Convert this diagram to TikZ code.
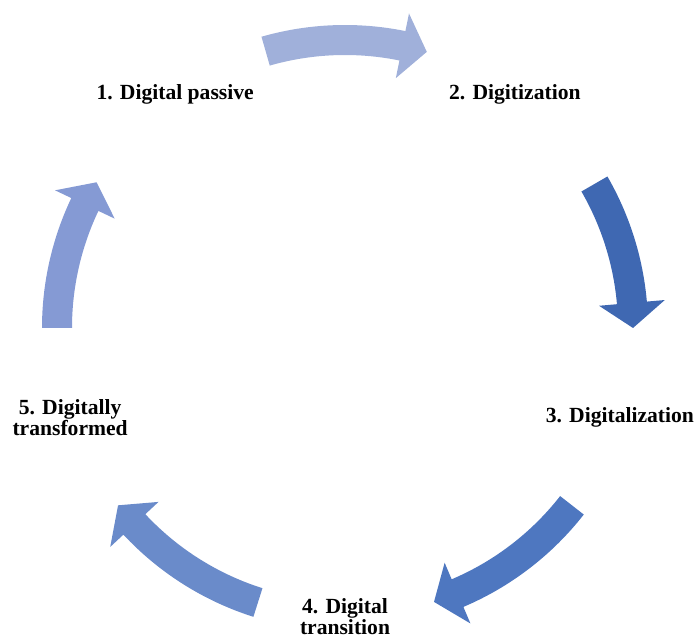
\documentclass[tikz,border=0pt]{standalone}
\usepackage{fontspec}
\setmainfont{Liberation Serif}
\usepackage{tikz}
\usetikzlibrary{calc}
\usepackage{xcolor}
\definecolor{cyc-one}{RGB}{160,176,218}
\definecolor{cyc-two}{RGB}{63,104,178}
\definecolor{cyc-three}{RGB}{78,119,192}
\definecolor{cyc-four}{RGB}{106,139,202}
\definecolor{cyc-five}{RGB}{133,154,212}

% curved block arrow round (mid): colour, tail angle, head base angle, tip angle
\newcommand{\cyclearrow}[4]{%
	\fill[#1] ($(mid)+(#2:303)$) arc[start angle=#2, end angle=#3, radius=303]
	-- ($(mid)+(#3:321)$) -- ($(mid)+(#4:288)$) -- ($(mid)+(#3:255)$)
	-- ($(mid)+(#3:273)$) arc[start angle=#3, end angle=#2, radius=273] -- cycle;}

\begin{document}
\begin{tikzpicture}[x=0.5pt, y=0.5pt,
		stage/.style={font=\bfseries\fontsize{10.8}{10.5}\selectfont, align=center, inner sep=0pt}]
	\useasboundingbox (0,0) rectangle (695,637);
	\coordinate (mid) at (345,309);
	\node[stage] (passive) at ($(mid)+(126:289)$) {1. Digital passive};
	\node[stage] (digitization) at ($(mid)+(54:289)$) {2. Digitization};
	\node[stage] (digitalization) at ($(mid)+(-18:289)$) {3. Digitalization};
	\node[stage] (transition) at ($(mid)+(-90:289)$) {4. Digital\\transition};
	\node[stage] (transformed) at ($(mid)+(198:289)$) {5. Digitally\\transformed};
	\cyclearrow{cyc-one}{106}{78.5}{73.5}
	\cyclearrow{cyc-two}{30}{5}{0}
	\cyclearrow{cyc-three}{-38}{-67}{-72}
	\cyclearrow{cyc-four}{252.4}{223}{218}
	\cyclearrow{cyc-five}{180}{154.6}{149.6}
\end{tikzpicture}
\end{document}
